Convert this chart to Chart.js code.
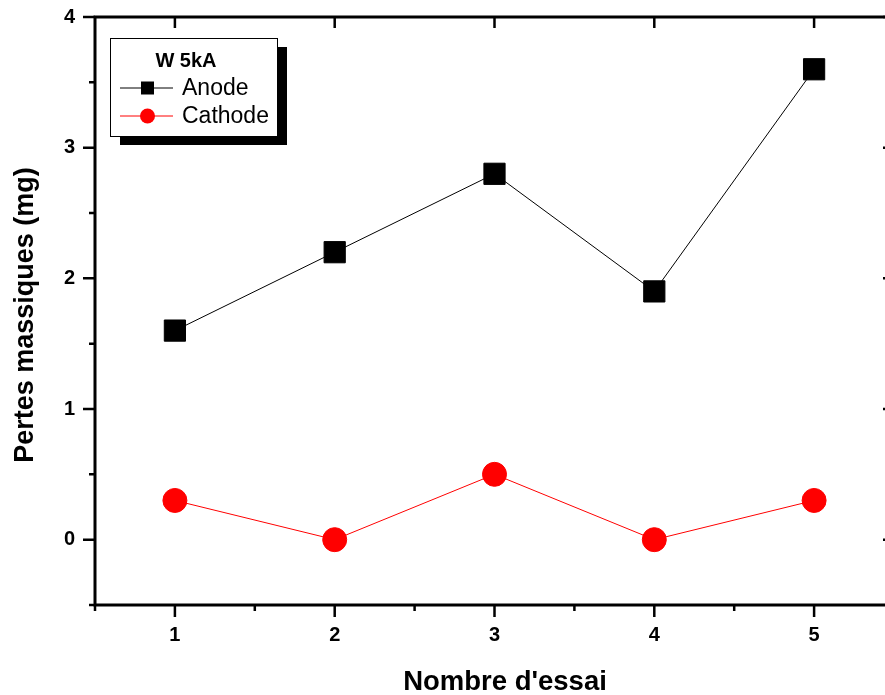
<!DOCTYPE html>
<html>
<head>
<meta charset="utf-8">
<script src="https://cdn.jsdelivr.net/npm/chart.js@4.4.1/dist/chart.umd.min.js"></script>
<style>
  html, body { margin: 0; padding: 0; background: #fff; overflow: hidden; }
  #wrap { width: 910px; height: 695px; }
</style>
</head>
<body>
<div id="wrap"><canvas id="chart" width="910" height="695"></canvas></div>
<script>
// trial number and mass losses (mg)
const essais = [1, 2, 3, 4, 5];
const anode = [1.6, 2.2, 2.8, 1.9, 3.6];
const cathode = [0.3, 0, 0.5, 0, 0.3];
const legendTitle = "W 5kA";
const xTitle = "Nombre d'essai";
const yTitle = "Pertes massiques (mg)";

const FONT = "'Liberation Sans', Arial, sans-serif";
const isInt = (v) => Math.abs(v - Math.round(v)) < 1e-6;

// keep the plot box where it is in the original (no extra label padding)
function fixBox(size, prop) {
  return (s) => {
    s[prop] = size;
    s.paddingTop = s.paddingBottom = s.paddingLeft = s.paddingRight = 0;
  };
}

// frame, Origin-style ticks, axis titles and the shadowed legend
const frame = {
  id: "frame",
  afterDraw(chart) {
    const { ctx, chartArea: a, scales } = chart;
    const xs = scales.x, ys = scales.y;
    ctx.save();
    ctx.strokeStyle = "#000";
    ctx.lineCap = "butt";

    // ticks
    ctx.lineWidth = 2.5;
    ctx.beginPath();
    xs.ticks.forEach((t) => {
      const px = xs.getPixelForValue(t.value);
      const major = isInt(t.value);
      ctx.moveTo(px, a.bottom);
      ctx.lineTo(px, a.bottom + (major ? 12 : 6));
      if (major) {
        ctx.moveTo(px, a.top);
        ctx.lineTo(px, a.top + 11);
      }
    });
    ys.ticks.forEach((t) => {
      const py = ys.getPixelForValue(t.value);
      const major = isInt(t.value);
      ctx.moveTo(a.left, py);
      ctx.lineTo(a.left - (major ? 12 : 6), py);
      if (major) {
        ctx.moveTo(a.right, py);
        ctx.lineTo(a.right - 11, py);
      }
    });
    ctx.stroke();

    // axes box
    ctx.lineWidth = 3;
    ctx.strokeRect(a.left, a.top, a.right - a.left, a.bottom - a.top);

    // axis titles
    ctx.fillStyle = "#000";
    ctx.font = "bold 27.5px " + FONT;
    ctx.textAlign = "center";
    ctx.textBaseline = "alphabetic";
    ctx.fillText(xTitle, 505, 690);
    ctx.save();
    ctx.translate(33, 315);
    ctx.rotate(-Math.PI / 2);
    ctx.font = "bold 27px " + FONT;
    ctx.fillText(yTitle, 0, 0);
    ctx.restore();

    // legend
    const bx = a.left + 15, by = a.top + 21, bw = 167, bh = 98;
    ctx.fillStyle = "#000";
    ctx.fillRect(bx + 10, by + 9, bw, bh);
    ctx.fillStyle = "#fff";
    ctx.fillRect(bx, by, bw, bh);
    ctx.lineWidth = 1;
    ctx.strokeRect(bx + 0.5, by + 0.5, bw, bh);

    ctx.fillStyle = "#000";
    ctx.font = "bold 20px " + FONT;
    ctx.textBaseline = "middle";
    ctx.fillText(legendTitle, bx + 76, by + 23);

    ctx.font = "23px " + FONT;
    ctx.textAlign = "left";
    chart.data.datasets.forEach((ds, i) => {
      const y = by + 50 + i * 28;
      ctx.strokeStyle = ds.borderColor;
      ctx.lineWidth = 1;
      ctx.beginPath();
      ctx.moveTo(bx + 10, y);
      ctx.lineTo(bx + 63, y);
      ctx.stroke();
      ctx.fillStyle = ds.backgroundColor;
      if (ds.pointStyle === "rect") {
        ctx.fillRect(bx + 31, y - 6.5, 13, 13);
      } else {
        ctx.beginPath();
        ctx.arc(bx + 37.5, y, 7.5, 0, Math.PI * 2);
        ctx.fill();
      }
      ctx.fillStyle = "#000";
      ctx.fillText(ds.label, bx + 72, y + 1);
    });
    ctx.restore();
  },
};

const tickFont = { family: FONT, size: 20, weight: "bold" };
const intLabel = (v) => (isInt(v) ? String(Math.round(v)) : "");

new Chart(document.getElementById("chart"), {
  type: "line",
  data: {
    labels: essais,
    datasets: [
      {
        label: "Anode",
        data: essais.map((x, i) => ({ x: x, y: anode[i] })),
        borderColor: "#000",
        backgroundColor: "#000",
        borderWidth: 1,
        pointStyle: "rect",
        pointRadius: 15,
        pointBorderWidth: 1,
        tension: 0,
      },
      {
        label: "Cathode",
        data: essais.map((x, i) => ({ x: x, y: cathode[i] })),
        borderColor: "#ff0000",
        backgroundColor: "#ff0000",
        borderWidth: 1,
        pointStyle: "circle",
        pointRadius: 12,
        pointBorderWidth: 1,
        tension: 0,
      },
    ],
  },
  options: {
    responsive: false,
    devicePixelRatio: 1,
    animation: false,
    layout: { padding: { top: 17, right: 6, left: 0, bottom: 0 } },
    plugins: { legend: { display: false }, tooltip: { enabled: false } },
    scales: {
      x: {
        type: "linear",
        min: 0.5,
        max: 5.5,
        afterFit: fixBox(90, "height"),
        grid: { display: false, drawTicks: false, tickLength: 0 },
        border: { display: false },
        ticks: {
          stepSize: 0.5,
          autoSkip: false,
          maxRotation: 0,
          padding: 18,
          color: "#000",
          font: tickFont,
          callback: intLabel,
        },
      },
      y: {
        min: -0.5,
        max: 4,
        afterFit: fixBox(95, "width"),
        grid: { display: false, drawTicks: false, tickLength: 0 },
        border: { display: false },
        ticks: {
          stepSize: 0.5,
          autoSkip: false,
          padding: 20,
          color: "#000",
          font: tickFont,
          callback: intLabel,
        },
      },
    },
  },
  plugins: [frame],
});
</script>
</body>
</html>
